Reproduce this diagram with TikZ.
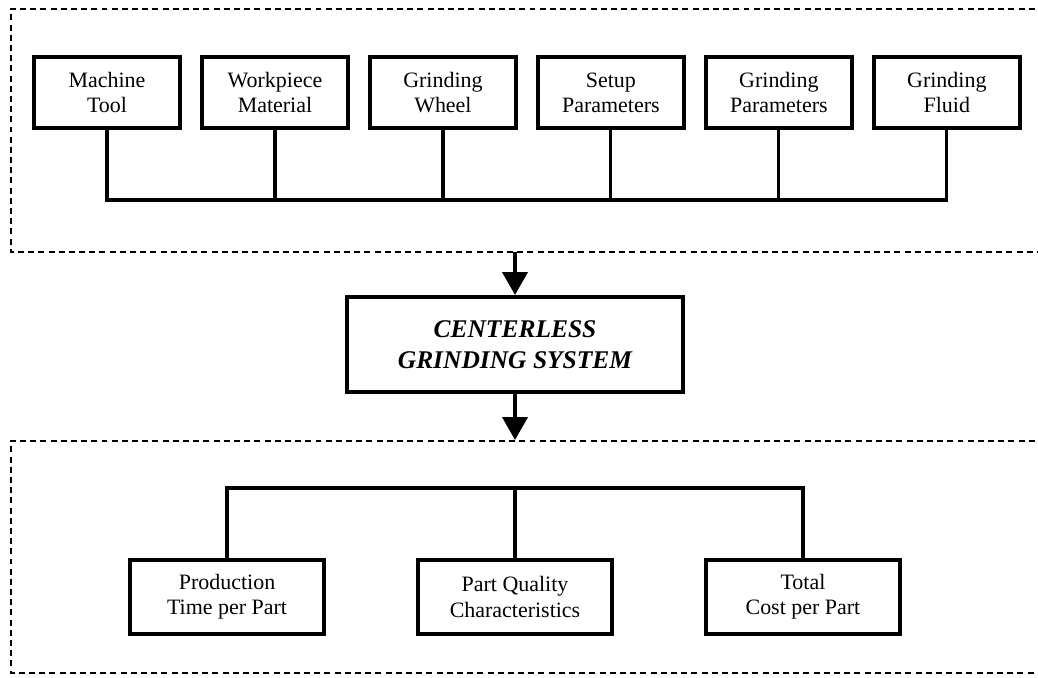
\documentclass[tikz,border=0pt]{standalone}
\usepackage{fontspec}
\setmainfont{Liberation Serif}
\usetikzlibrary{arrows.meta,positioning}

\tikzset{
	inbox/.style={draw, line width=2.3pt, minimum width=2.92cm, minimum height=1.42cm,
		align=center, inner sep=0pt, font=\fontsize{12.5}{14.4}\selectfont},
	outbox/.style={inbox, minimum width=3.88cm, minimum height=1.48cm},
	group/.style={line width=1pt, dash pattern=on 3.4pt off 2.4pt},
	bus/.style={line width=1.8pt},
	flow/.style={line width=2.3pt, -{Triangle[width=0.5cm,length=0.46cm]}}
}

\begin{document}
\begin{tikzpicture}[x=0.02cm, y=-0.02cm, node distance=3.36cm]
	\useasboundingbox (0,0) rectangle (1038,677);

	% dashed groups
	\draw[group] (1045,9) -- (11,9) -- (11,252) -- (1045,252);
	\draw[group] (1045,441) -- (11,441) -- (11,673) -- (1045,673);

	% inputs
	\node[inbox] (mt) at (107,92.5) {Machine\\Tool};
	\node[inbox] (wm) [right of=mt] {Workpiece\\Material};
	\node[inbox] (gw) [right of=wm] {Grinding\\Wheel};
	\node[inbox] (sp) [right of=gw] {Setup\\Parameters};
	\node[inbox] (gp) [right of=sp] {Grinding\\Parameters};
	\node[inbox] (gf) [right of=gp] {Grinding\\Fluid};

	\coordinate (tb) at (0,200);
	\draw[bus] (mt.south) -- (mt.south |- tb) -- (gf.south |- tb) -- (gf.south);
	\draw[bus]
		(wm.south) -- (wm.south |- tb)
		(gw.south) -- (gw.south |- tb)
		(sp.south) -- (sp.south |- tb)
		(gp.south) -- (gp.south |- tb);

	% system
	\node[draw, line width=2.3pt, minimum width=6.72cm, minimum height=1.9cm, align=center,
		font=\fontsize{14.5}{18}\selectfont\bfseries\itshape] (cgs) at (515,344.5)
		{CENTERLESS\\GRINDING SYSTEM};

	\coordinate (ta) at (515,252);
	\coordinate (tz) at (515,440);
	\draw[flow] (ta) -- (cgs.north);
	\draw[flow] (cgs.south) -- (tz);

	% outputs
	\node[outbox] (pq) at (515,597) {Part Quality\\Characteristics};
	\node[outbox] (pt) [left of=pq, node distance=5.76cm] {Production\\Time per Part};
	\node[outbox] (tc) [right of=pq, node distance=5.76cm] {Total\\Cost per Part};

	\coordinate (bb) at (0,488);
	\draw[bus] (pt.north) -- (pt.north |- bb) -- (tc.north |- bb) -- (tc.north);
	\draw[bus] (pq.north) -- (pq.north |- bb);

\end{tikzpicture}
\end{document}
